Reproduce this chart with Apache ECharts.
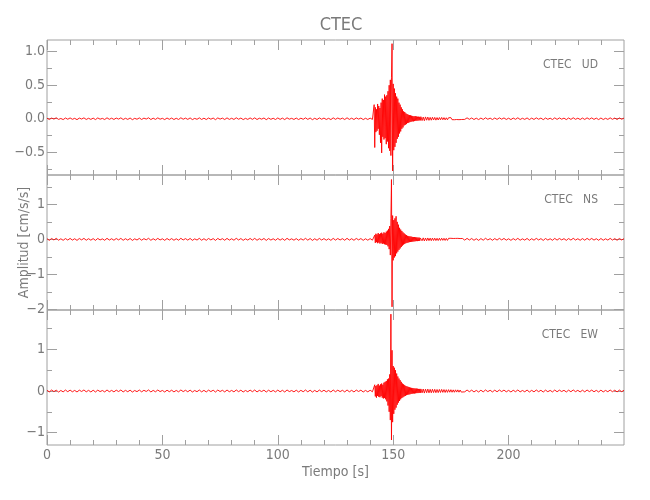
<!DOCTYPE html>
<html>
<head>
<meta charset="utf-8">
<script src="https://cdn.jsdelivr.net/npm/echarts@6/dist/echarts.min.js"></script>
<style>html,body{margin:0;padding:0;background:#fff}#c{width:650px;height:500px}</style>
</head>
<body>
<div id="c"></div>
<script>
// ---------------- DATA ----------------
const station = 'CTEC';
const components = ['UD', 'NS', 'EW'];
const xTickLabels = [0, 50, 100, 150, 200];
const xMinorTicks = [10,20,30,40,60,70,80,90,110,120,130,140,160,170,180,190,210,220,230,240];
const xRange = [0, 250];

// sampling of each trace segment (start time s, step s)
const preStart = 0, preStep = 1;
const burstStart = 141.5, burstStep = 0.25;
const codaStart = 162, codaStep = 0.5;
const postStart = 180, postStep = 1;

// UD (cm/s/s)
const udPre = [.008,-.012,.01,-.006,.014,-.01,.004,-.013,.011,-.008,
.012,-.009,.006,-.014,.01,-.005,.013,-.011,.007,-.01,
.009,-.013,.012,-.007,.005,-.012,.014,-.009,.008,-.011,
.01,-.006,.013,-.012,.007,-.01,.011,-.014,.006,-.008,
.012,-.011,.009,-.005,.014,-.012,.008,-.01,.013,-.007,
.006,-.013,.011,-.009,.01,-.012,.007,-.011,.014,-.008,
.009,-.01,.012,-.013,.005,-.009,.013,-.011,.008,-.012,
.011,-.007,.01,-.014,.012,-.006,.009,-.012,.013,-.01,
.007,-.011,.014,-.008,.01,-.013,.006,-.01,.012,-.009,
.013,-.012,.008,-.006,.011,-.014,.01,-.009,.007,-.012,
.012,-.01,.009,-.013,.014,-.007,.006,-.011,.01,-.012,
.008,-.009,.013,-.01,.011,-.014,.007,-.012,.012,-.008,
.01,-.011,.006,-.013,.013,-.009,.011,-.007,.009,-.012,
.014,-.01,.008,-.012,.012,-.006,.01,-.013,.007,-.011,
.009,-.01];
const udBurst = [.01,.21,-.43,.17,-.2,.14,-.18,.22,-.15,.19,
-.24,.16,-.36,.24,-.51,.3,-.27,.28,-.31,.36,
-.29,.33,-.38,.35,-.34,.41,-.44,.5,-.48,.58,
-.55,.62,1.12,-.78,.52,-.47,.45,-.42,.38,-.36,
.33,-.3,.3,-.27,.24,-.22,.21,-.19,.17,-.15,
.14,-.13,.11,-.1,.1,-.09,.08,-.08,.07,-.065,
.06,-.06,.055,-.05,.05,-.045,.045,-.04,.04,-.04,
.035,-.035,.04,-.03,.035,-.03,.03,-.028,.03,-.025,
.028,-.025];
const udCoda = [.03,-.028,.025,-.03,.027,-.022,.025,-.024,.02,-.022,
.022,-.018,.02,-.021,.017,-.019,.018,-.016,.019,-.015,
.016,-.017,.014,-.016,.015,-.013,.016,-.014,.012,-.015,
.014,-.012,.013,-.014,.011,-.012];
const udPost = [.012,-.01,.013,-.009,.011,-.012,.008,-.013,.01,-.011,
.014,-.008,.009,-.012,.011,-.01,.013,-.007,.012,-.011,
.008,-.013,.01,-.009,.014,-.012,.007,-.01,.012,-.013,
.009,-.011,.013,-.008,.01,-.014,.011,-.009,.008,-.012,
.013,-.01,.012,-.007,.009,-.013,.011,-.01,.014,-.009,
.008,-.012,.01,-.011,.013,-.008,.012,-.01,.009,-.013,
.011,-.012,.007,-.01,.013,-.009,.01,-.012,.012,-.008,
.01];

// NS (cm/s/s)
const nsPre = [.02,-.028,.025,-.018,.03,-.024,.016,-.027,.022,-.02,
.027,-.021,.018,-.03,.024,-.015,.028,-.025,.019,-.023,
.021,-.029,.026,-.017,.014,-.027,.03,-.02,.018,-.025,
.024,-.016,.028,-.026,.019,-.022,.025,-.03,.015,-.019,
.027,-.024,.02,-.014,.03,-.027,.018,-.022,.028,-.017,
.016,-.028,.024,-.02,.022,-.026,.017,-.024,.03,-.018,
.021,-.022,.026,-.028,.014,-.02,.029,-.025,.019,-.027,
.025,-.017,.022,-.03,.027,-.015,.02,-.026,.028,-.022,
.017,-.025,.03,-.019,.023,-.028,.015,-.021,.026,-.02,
.028,-.027,.019,-.016,.025,-.03,.022,-.02,.017,-.026,
.026,-.022,.02,-.028,.03,-.017,.015,-.024,.022,-.027,
.019,-.021,.028,-.023,.024,-.03,.017,-.026,.027,-.019,
.022,-.024,.016,-.028,.028,-.021,.024,-.018,.02,-.026,
.03,-.022,.019,-.027,.026,-.015,.023,-.028,.017,-.024,
.021,-.023];
const nsBurst = [.02,-.03,.12,-.1,.16,-.08,.14,-.11,.18,-.09,
.15,-.12,.17,-.1,.19,-.13,.16,-.12,.2,-.14,
.18,-.15,.22,-.16,.25,-.2,.3,-.28,.38,-.45,
.6,1.71,-1.93,.68,-.6,.55,-.52,.6,-.48,.66,
-.4,.5,-.35,.42,-.3,.33,-.26,.28,-.22,.24,
-.18,.2,-.15,.17,-.13,.14,-.11,.12,-.1,.1,
-.09,.09,-.08,.085,-.075,.08,-.07,.07,-.065,.065,
-.06,.065,-.055,.06,-.05,.055,-.05,.05,-.045,.05,
-.045,.04];
const nsCoda = [.045,-.04,.042,-.045,.038,-.04,.04,-.036,.035,-.038,
.036,-.033,.034,-.035,.03,-.034,.032,-.03,.033,-.028,
.03,-.031,.028,-.03,.029,-.026,.03,-.027,.025,-.029,
.027,-.024,.028,-.026,.023,-.027];
const nsPost = [.025,-.022,.028,-.019,.024,-.027,.018,-.029,.022,-.024,
.03,-.017,.02,-.026,.023,-.021,.028,-.016,.026,-.023,
.017,-.028,.021,-.02,.029,-.025,.015,-.022,.027,-.028,
.019,-.024,.028,-.018,.021,-.03,.024,-.02,.017,-.026,
.027,-.022,.025,-.015,.02,-.028,.023,-.021,.03,-.019,
.018,-.026,.022,-.024,.028,-.017,.026,-.022,.019,-.027,
.024,-.025,.016,-.021,.028,-.02,.022,-.026,.025,-.018,
.02];

// EW (cm/s/s)
const ewPre = [.018,-.022,.024,-.015,.02,-.025,.013,-.021,.023,-.017,
.022,-.019,.014,-.024,.021,-.012,.025,-.02,.016,-.023,
.019,-.024,.021,-.014,.012,-.022,.025,-.018,.015,-.021,
.02,-.013,.024,-.022,.016,-.018,.021,-.025,.012,-.016,
.023,-.02,.017,-.012,.025,-.023,.015,-.019,.024,-.014,
.013,-.024,.02,-.017,.019,-.022,.014,-.02,.025,-.015,
.018,-.019,.022,-.024,.012,-.017,.024,-.021,.016,-.023,
.021,-.014,.019,-.025,.023,-.013,.017,-.022,.024,-.018,
.014,-.021,.025,-.016,.02,-.024,.013,-.018,.022,-.017,
.024,-.023,.016,-.013,.021,-.025,.019,-.017,.014,-.022,
.022,-.019,.017,-.024,.025,-.014,.012,-.02,.019,-.023,
.016,-.018,.024,-.02,.02,-.025,.014,-.022,.023,-.016,
.019,-.02,.013,-.024,.024,-.018,.02,-.015,.017,-.022,
.025,-.019,.016,-.023,.022,-.012,.02,-.024,.014,-.02,
.018,-.019];
const ewBurst = [.02,-.04,.15,-.13,.12,-.16,.14,-.12,.17,-.14,
.13,-.15,.16,-.12,.18,-.16,.15,-.18,.2,-.17,
.22,-.2,.24,-.25,.28,-.35,.3,-.5,.4,-.7,
1.85,-1.18,.98,-.75,.6,-.55,.56,-.45,.5,-.4,
.42,-.33,.35,-.28,.3,-.24,.26,-.2,.22,-.17,
.18,-.15,.16,-.13,.14,-.12,.12,-.1,.11,-.09,
.1,-.085,.09,-.08,.08,-.07,.075,-.065,.07,-.06,
.065,-.06,.06,-.055,.06,-.05,.055,-.05,.05,-.045,
.05,-.045];
const ewCoda = [.05,-.045,.048,-.05,.045,-.042,.046,-.044,.04,-.043,
.042,-.038,.04,-.041,.036,-.039,.037,-.035,.038,-.033,
.034,-.035,.031,-.033,.032,-.029,.031,-.03,.027,-.03,
.028,-.026,.027,-.028,.024,-.026];
const ewPost = [.022,-.02,.024,-.017,.021,-.023,.015,-.024,.019,-.021,
.025,-.015,.018,-.022,.02,-.019,.024,-.014,.022,-.02,
.015,-.024,.018,-.017,.025,-.021,.013,-.019,.023,-.024,
.016,-.021,.024,-.016,.018,-.025,.021,-.017,.015,-.022,
.023,-.019,.021,-.013,.017,-.024,.02,-.018,.025,-.016,
.016,-.022,.019,-.021,.024,-.015,.022,-.019,.016,-.023,
.021,-.022,.014,-.018,.024,-.017,.019,-.022,.022,-.016,
.018];

// y-axis ranges and ticks per panel
const yRanges = [[-0.84, 1.175], [-2.02, 1.84], [-1.30, 1.95]];
const yMajorTicks = [[-0.5, 0, 0.5, 1], [-2, -1, 0, 1], [-1, 0, 1]];
const yMinorTicks = [[-0.75, -0.25, 0.25, 0.75], [-1.5, -0.5, 0.5, 1.5], [-0.5, 0.5, 1.5]];
const yDecimals = [1, 0, 0];

// ---------------- BUILD ----------------
function seg(arr, t0, dt) { return arr.map((v, i) => [t0 + i * dt, v]); }
function trace(pre, burst, coda, post) {
  return [].concat(seg(pre, preStart, preStep), seg(burst, burstStart, burstStep),
                   seg(coda, codaStart, codaStep), seg(post, postStart, postStep));
}
const traces = [trace(udPre, udBurst, udCoda, udPost),
                trace(nsPre, nsBurst, nsCoda, nsPost),
                trace(ewPre, ewBurst, ewCoda, ewPost)];

const FONT = "'Liberation Sans Narrow','DejaVu Sans Condensed','Roboto Condensed','Liberation Sans',sans-serif";
const TXT = '#7a7a7a';
const AX = '#a0a0a0';
const LEFT = 47, RIGHT = 26, TOPS = [40, 175, 310], H = 135;

const grids = [], xAxes = [], yAxes = [], series = [], graphics = [];
TOPS.forEach((top, g) => {
  grids.push({left: LEFT, right: RIGHT, top: top, height: H, show: true,
    borderColor: AX, borderWidth: 1, backgroundColor: 'transparent'});
  const isBottom = g === TOPS.length - 1;
  [['bottom', xTickLabels, 10, isBottom], ['bottom', xMinorTicks, 5, false],
   ['top', xTickLabels, 10, false], ['top', xMinorTicks, 5, false]].forEach(([pos, vals, len, lab], k) => {
    const ax = {type: 'value', gridIndex: g, min: xRange[0], max: xRange[1], position: pos,
      axisLine: {show: false, onZero: false}, splitLine: {show: false},
      axisTick: {show: true, inside: true, length: len, customValues: vals, lineStyle: {color: AX, width: 1}},
      axisLabel: {show: lab, customValues: vals, color: TXT, fontFamily: FONT, fontSize: 14, margin: 3}};
    if (lab && k === 0) {
      ax.name = 'Tiempo [s]'; ax.nameLocation = 'middle'; ax.nameGap = 20; ax.nameMoveOverlap = false;
      ax.nameTextStyle = {color: TXT, fontFamily: FONT, fontSize: 14};
    }
    xAxes.push(ax);
  });
  const dec = yDecimals[g];
  [['left', yMajorTicks[g], 10, true], ['left', yMinorTicks[g], 5, false],
   ['right', yMajorTicks[g], 10, false], ['right', yMinorTicks[g], 5, false]].forEach(([pos, vals, len, lab], k) => {
    const ax = {type: 'value', gridIndex: g, min: yRanges[g][0], max: yRanges[g][1], position: pos,
      axisLine: {show: false, onZero: false}, splitLine: {show: false},
      axisTick: {show: true, inside: true, length: len, customValues: vals, lineStyle: {color: AX, width: 1}},
      axisLabel: {show: lab, customValues: vals, color: TXT, fontFamily: FONT, fontSize: 14, margin: 2,
        formatter: v => (v < 0 ? '\u2212' : '') + Math.abs(v).toFixed(dec)}};
    if (g === 1 && k === 0) {
      ax.name = 'Amplitud [cm/s/s]'; ax.nameLocation = 'middle'; ax.nameGap = 16; ax.nameMoveOverlap = false;
      ax.nameTextStyle = {color: TXT, fontFamily: FONT, fontSize: 14};
    }
    yAxes.push(ax);
  });
  series.push({type: 'line', xAxisIndex: 4 * g, yAxisIndex: 4 * g, data: traces[g],
    symbol: 'none', showSymbol: false, sampling: null, silent: true, clip: true,
    lineStyle: {color: '#ff0000', width: 0.9}});
  graphics.push({type: 'text', right: 52, top: top + 19,
    style: {text: station + '   ' + components[g], fill: TXT, font: '12px ' + FONT}});
});

const chart = echarts.init(document.getElementById('c'), null, {renderer: 'canvas'});
chart.setOption({
  animation: false,
  backgroundColor: '#fff',
  title: {text: station, left: 336, top: 11, textAlign: 'center',
    textStyle: {color: TXT, fontFamily: FONT, fontSize: 18, fontWeight: 'normal'}},
  grid: grids, xAxis: xAxes, yAxis: yAxes, series: series, graphic: graphics
});
</script>
</body>
</html>
